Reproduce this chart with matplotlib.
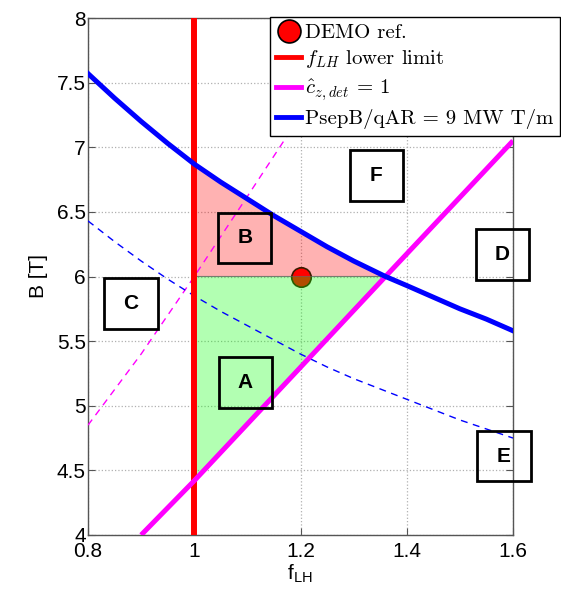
import numpy as np
import matplotlib
matplotlib.use("Agg")
import matplotlib.pyplot as plt
from matplotlib.patches import Polygon, Rectangle
from matplotlib.ticker import FuncFormatter
from matplotlib.lines import Line2D

plt.rcParams['font.family'] = ['Liberation Sans', 'DejaVu Sans']
plt.rcParams['mathtext.fontset'] = 'cm'
plt.rcParams['axes.unicode_minus'] = False

# ---- data ----
flh_limit = 1.0
demo_ref = (1.2, 6.0)
b_level = 6.0

# PsepB/qAR = 9 MW T/m (solid blue)
blue_x = [0.8, 0.85, 0.9, 0.95, 1.0, 1.05, 1.1, 1.15, 1.2, 1.25, 1.3, 1.36,
          1.4, 1.45, 1.5, 1.55, 1.6]
blue_y = [7.57, 7.38, 7.20, 7.03, 6.87, 6.73, 6.60, 6.47, 6.35, 6.23, 6.12,
          6.00, 5.93, 5.84, 5.75, 5.67, 5.58]
# dashed blue
blued_x = [0.8, 0.85, 0.9, 0.95, 1.0, 1.05, 1.1, 1.15, 1.2, 1.25, 1.3, 1.35,
           1.4, 1.45, 1.5, 1.55, 1.6]
blued_y = [6.43, 6.27, 6.12, 5.98, 5.85, 5.73, 5.62, 5.51, 5.40, 5.30, 5.21,
           5.13, 5.05, 4.97, 4.89, 4.82, 4.75]
# c_z,det = 1 (solid magenta)
mag_x = [0.9, 1.0, 1.36, 1.6]
mag_y = [4.0, 4.42, 6.0, 7.05]
# dashed magenta
magd_x = [0.8, 0.9, 1.0, 1.1, 1.18, 1.25]
magd_y = [4.85, 5.40, 6.0, 6.62, 7.12, 7.55]

region_labels = ['A', 'B', 'C', 'D', 'E', 'F']
region_x = [1.096, 1.095, 0.881, 1.58, 1.583, 1.343]
region_y = [5.18, 6.30, 5.79, 6.17, 4.61, 6.78]

xticks = [0.8, 1.0, 1.2, 1.4, 1.6]
yticks = [4, 4.5, 5, 5.5, 6, 6.5, 7, 7.5, 8]

legend_labels = ['DEMO ref.', r'$f_{LH}$ lower limit',
                 r'$\hat{c}_{z,det}$ = 1', 'PsepB/qAR = 9 MW T/m']

fig = plt.figure(figsize=(5.61, 5.90), dpi=100)
ax = fig.add_axes([88/561, 1-535/590, (513-88)/561, (535-18)/590])
ax.set_xlim(0.8, 1.6)
ax.set_ylim(4, 8)

# regions
x_hi = 1.36
bx = [x for x in blue_x if flh_limit <= x <= x_hi]
by = [y for x, y in zip(blue_x, blue_y) if flh_limit <= x <= x_hi]
polyB = [(flh_limit, b_level)] + list(zip(bx, by)) + [(x_hi, b_level)]
ax.add_patch(Polygon(polyB, closed=True, facecolor=(1, 0, 0, 0.3),
                     edgecolor=(0.4, 0.4, 0.4, 0.6), lw=0.8, zorder=2))
mx = [x for x in mag_x if flh_limit <= x <= x_hi]
my = [y for x, y in zip(mag_x, mag_y) if flh_limit <= x <= x_hi]
polyA = [(flh_limit, b_level), (x_hi, b_level)] + list(zip(mx, my))[::-1]
ax.add_patch(Polygon(polyA, closed=True, facecolor=(0, 1, 0, 0.3),
                     edgecolor=(0.4, 0.4, 0.4, 0.6), lw=0.8, zorder=6))

# lines
ax.plot(magd_x, magd_y, color='#ff00ff', lw=1.0, ls=(0, (5, 4)), zorder=7)
ax.plot(blued_x, blued_y, color='#0000ff', lw=1.0, ls=(0, (5, 4)), zorder=7)
ax.axvline(flh_limit, color='#ff0000', lw=4.3, zorder=7)
ax.plot(mag_x, mag_y, color='#ff00ff', lw=3.6, zorder=7, solid_capstyle='butt')
ax.plot(blue_x, blue_y, color='#0000ff', lw=3.6, zorder=7)
ax.plot([demo_ref[0]], [demo_ref[1]], 'o', ms=14, mfc='#ff0000', mec='#3a1a00',
        mew=1.2, zorder=5)

# region label boxes
bw, bh = 0.1, 0.39
for lab, x, y in zip(region_labels, region_x, region_y):
    ax.add_patch(Rectangle((x - bw/2, y - bh/2), bw, bh, facecolor='none',
                           edgecolor='black', lw=2.0, zorder=8, clip_on=False))
    ax.text(x, y, lab, ha='center', va='center', fontsize=15,
            fontweight='bold', zorder=9)

# axes styling
ax.set_xticks(xticks)
ax.set_yticks(yticks)
fmt = FuncFormatter(lambda v, p: '%g' % v)
ax.xaxis.set_major_formatter(fmt)
ax.yaxis.set_major_formatter(fmt)
ax.grid(True, ls=':', color='#b0b0b0', lw=0.9, zorder=0)
ax.set_axisbelow(True)
ax.tick_params(direction='in', top=True, right=True, labelsize=15,
               length=5, color='#555555')
ax.tick_params(axis='y', pad=1.5)
ax.tick_params(axis='x', pad=5)
for s in ax.spines.values():
    s.set_color('#555555')
    s.set_linewidth(1.0)
ax.set_xlabel(r'f$_{\mathregular{LH}}$', fontsize=15, labelpad=1)
ax.set_ylabel('B [T]', fontsize=15)
ax.yaxis.set_label_coords(-0.095, 0.5)

# legend
handles = [
    Line2D([], [], ls='none', marker='o', ms=16.5, mfc='#ff0000', mec='black', mew=1.2),
    Line2D([], [], color='#ff0000', lw=3.5),
    Line2D([], [], color='#ff00ff', lw=3.5),
    Line2D([], [], color='#0000ff', lw=3.5),
]
leg = fig.legend(handles, legend_labels, loc='upper left',
                 bbox_to_anchor=(270/561, 1-17/590),
                 prop={'family': 'cmr10', 'size': 15},
                 handlelength=1.2, handletextpad=0.2, labelspacing=0.32,
                 borderpad=0.3, borderaxespad=0, fancybox=False, framealpha=1,
                 edgecolor='black')
leg.get_frame().set_linewidth(1.0)
leg.set_zorder(20)

fig.savefig('out.png', dpi=100)
